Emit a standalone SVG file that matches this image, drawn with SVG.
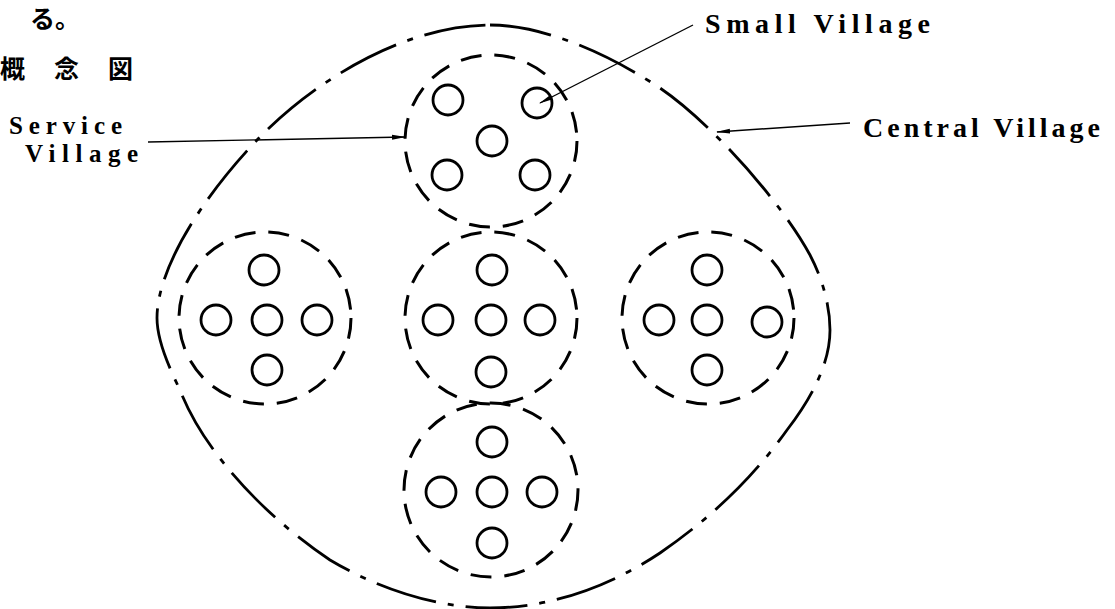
<svg xmlns="http://www.w3.org/2000/svg" width="1115" height="609" viewBox="0 0 1115 609">
<style>
.lbl{font-family:"Liberation Serif","Times New Roman",serif;font-weight:bold;font-size:28px;fill:#000}
.lbl2{font-family:"Liberation Serif","Times New Roman",serif;font-weight:bold;font-size:25px;fill:#000}
.jp{font-family:"Noto Sans CJK JP",sans-serif;font-weight:bold;font-size:25px;fill:#000}
.svc{fill:none;stroke:#000;stroke-width:3;stroke-dasharray:21 13}
.sm{fill:none;stroke:#000;stroke-width:2.8}
.outer{fill:none;stroke:#000;stroke-width:2.8;stroke-dasharray:62 12 6 12}
.lead{fill:none;stroke:#000;stroke-width:1.4}
</style>
<defs>
<marker id="arr" viewBox="0 0 14 6" refX="13" refY="3" markerWidth="14" markerHeight="6" markerUnits="userSpaceOnUse" orient="auto">
<path d="M0,0.5 L14,3 L0,5.5 Z" fill="#000"/>
</marker>
</defs>
<rect width="1115" height="609" fill="#fff"/>
<text class="jp" x="30" y="28" font-size="20" font-weight="normal">る。</text>
<text class="jp" x="0 54 108" y="78">概念図</text>

<g id="central-village">
<path class="outer" d="M490,25 C545,25 610,55 660,88 C710,122 780,200 810,255 C822,278 830,305 830,330 C830,365 810,400 787,430 C755,475 715,515 660,553 C615,583 555,608 490,608 C440,608 380,590 330,560 C270,520 205,455 180,390 C168,365 157,340 157,318 C157,270 200,200 257,140 C320,75 410,25 490,25 Z"/>
</g>

<g id="sv-top">
<circle class="svc" cx="491" cy="141" r="86"/>
<circle class="sm" cx="448" cy="100" r="15"/>
<circle class="sm" cx="537" cy="103" r="15"/>
<circle class="sm" cx="492" cy="141" r="15"/>
<circle class="sm" cx="447" cy="175" r="15"/>
<circle class="sm" cx="535" cy="175" r="15"/>
</g>
<g id="sv-left">
<circle class="svc" cx="265" cy="318" r="86"/>
<circle class="sm" cx="264" cy="270" r="15"/>
<circle class="sm" cx="216" cy="320" r="15"/>
<circle class="sm" cx="267" cy="320" r="15"/>
<circle class="sm" cx="317" cy="320" r="15"/>
<circle class="sm" cx="267" cy="370" r="15"/>
</g>
<g id="sv-center">
<circle class="svc" cx="491" cy="318" r="86"/>
<circle class="sm" cx="492" cy="270" r="15"/>
<circle class="sm" cx="438" cy="320" r="15"/>
<circle class="sm" cx="491" cy="320" r="15"/>
<circle class="sm" cx="540" cy="320" r="15"/>
<circle class="sm" cx="491" cy="372" r="15"/>
</g>
<g id="sv-right">
<circle class="svc" cx="708" cy="318" r="86"/>
<circle class="sm" cx="707" cy="270" r="15"/>
<circle class="sm" cx="659" cy="320" r="15"/>
<circle class="sm" cx="707" cy="320" r="15"/>
<circle class="sm" cx="767" cy="322" r="15"/>
<circle class="sm" cx="707" cy="370" r="15"/>
</g>
<g id="sv-bottom">
<circle class="svc" cx="491" cy="490" r="87"/>
<circle class="sm" cx="492" cy="442" r="15"/>
<circle class="sm" cx="441" cy="492" r="15"/>
<circle class="sm" cx="492" cy="492" r="15"/>
<circle class="sm" cx="542" cy="492" r="15"/>
<circle class="sm" cx="492" cy="543" r="15"/>
</g>

<g id="labels">
<text class="lbl" x="705" y="33" textLength="225" lengthAdjust="spacing">Small Village</text>
<text class="lbl" x="863" y="137" textLength="237" lengthAdjust="spacing">Central Village</text>
<text class="lbl2" x="9" y="134" textLength="113" lengthAdjust="spacing">Service</text>
<text class="lbl2" x="25" y="162" textLength="113" lengthAdjust="spacing">Village</text>
</g>

<g id="connectors">
<line class="lead" x1="693" y1="25" x2="540" y2="103" marker-end="url(#arr)"/>
<line class="lead" x1="148" y1="142" x2="405" y2="137" marker-end="url(#arr)"/>
<line class="lead" x1="850" y1="123" x2="717" y2="132" marker-end="url(#arr)"/>
</g>
</svg>
